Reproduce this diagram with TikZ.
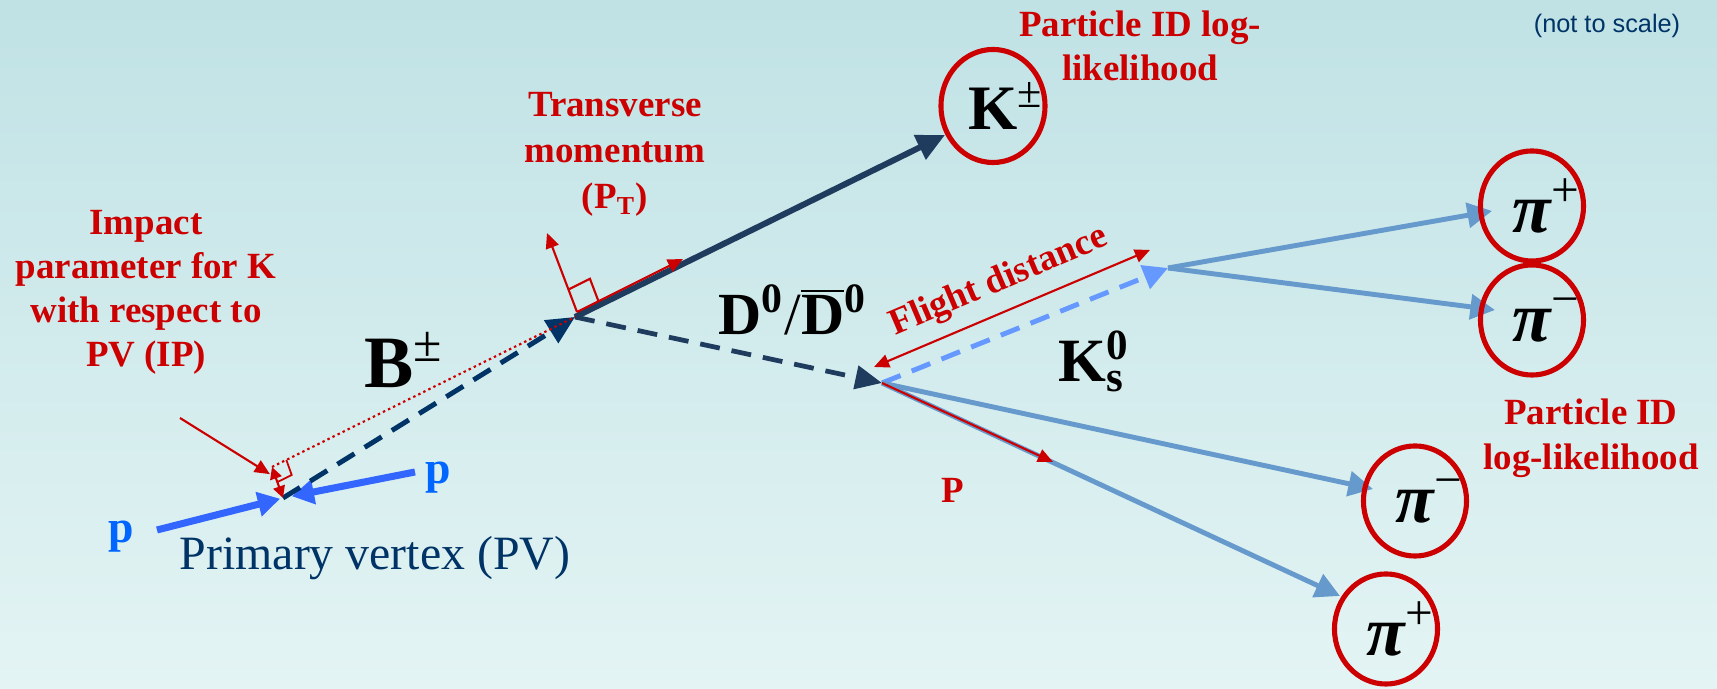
\documentclass[tikz,border=0pt]{standalone}
\usepackage{fontspec}
\setmainfont{Liberation Serif}
\setsansfont{Liberation Sans}
\usetikzlibrary{arrows.meta, calc, shapes.geometric}

\definecolor{bgtop}{RGB}{192,226,229}
\definecolor{bgbot}{RGB}{228,244,244}
\definecolor{lblred}{RGB}{204,0,0}
\definecolor{bnavy}{RGB}{0,51,102}
\definecolor{kslate}{RGB}{31,59,94}
\definecolor{pblue}{RGB}{51,102,255}
\definecolor{plabel}{RGB}{0,102,255}
\definecolor{ksblue}{RGB}{102,153,255}
\definecolor{piblue}{RGB}{102,153,204}

\newcommand{\supsub}[2]{\rlap{\textsuperscript{#1}}\textsubscript{#2}}

\begin{document}
\begin{tikzpicture}[x=0.01cm, y=-0.01cm,
    redlbl/.style={text=lblred, font=\bfseries\fontsize{10.5pt}{12.5pt}\selectfont, align=center, inner sep=0pt},
    bigsym/.style={inner sep=0pt, font=\bfseries\fontsize{#1}{#1}\selectfont},
    pidcirc/.style={ellipse, draw=lblred, line width=1.45pt, minimum width=1.03cm, minimum height=1.1cm, inner sep=0pt, font=\bfseries\itshape\fontsize{20pt}{20pt}\selectfont},
    dashtrack/.style={line width=1.4pt, dash pattern=on 0.2cm off 0.12cm},
    bigtip/.style={-{Triangle[length=8pt,width=7.4pt]}},
    pitrack/.style={piblue, line width=1.4pt, -{Triangle[length=7pt,width=7pt]}},
    redline/.style={lblred, line width=0.6pt},
    redtip/.style={redline, -{Triangle[length=4.3pt,width=3.8pt]}},
    redboth/.style={redline, {Triangle[length=4.3pt,width=3.8pt]}-{Triangle[length=4.3pt,width=3.8pt]}},
    beam/.style={pblue, line width=2pt, -{Triangle[length=6.3pt,width=6.8pt]}}
]

% Background
\fill[top color=bgtop, bottom color=bgbot] (0,0) rectangle (1717,689);
\useasboundingbox (0,0) rectangle (1717,689);

% Vertices and track ends
\coordinate (pv) at (283,498);
\coordinate (bv) at (575,317);
\coordinate (dv) at (882,383);
\coordinate (ksv) at (1168,268);
\coordinate (ktip) at (945,135);
\coordinate (beamleft) at (157,530);
\coordinate (beamright) at (415,472);
\coordinate (pip1tip) at (1492,211);
\coordinate (pim1tip) at (1495,310);
\coordinate (pim2tip) at (1373,489);
\coordinate (pip2tip) at (1340,596);

% Beams
\draw[beam, shorten >=0.03cm] (beamleft) -- (pv);
\draw[beam, shorten >=0.09cm] (beamright) -- (pv);

% Tracks
\draw[dashtrack, bnavy, bigtip] (pv) -- (bv);
\draw[dashtrack, kslate, line width=1.35pt, -{Triangle[length=7.6pt,width=6.6pt]}] (bv) -- (dv);
\draw[kslate, line width=1.7pt, bigtip] (bv) -- (ktip);
\draw[dashtrack, ksblue, -{Triangle[length=7pt,width=7pt]}] (dv) -- (ksv);
\draw[pitrack] (ksv) -- (pip1tip);
\draw[pitrack] (ksv) -- (pim1tip);
\draw[pitrack] (dv) -- (pim2tip);
\draw[pitrack] (dv) -- (pip2tip);

% Impact parameter
\coordinate (ipfoot) at (272,467);
\coordinate (ipfrom) at (180,418);
\coordinate (ipa) at ($(ipfoot)!0.16cm!(bv)$);
\coordinate (ipb) at ($(ipfoot)!0.16cm!(pv)$);
\draw[redline, dash pattern=on 0.7pt off 0.9pt] (ipfoot) -- (bv);
\draw[redline, line width=0.5pt] (ipa) -- ($(ipa)+(ipb)-(ipfoot)$) -- (ipb);
\draw[redline, {Triangle[length=3.4pt,width=3.4pt]}-{Triangle[length=3.4pt,width=3.4pt]}] (ipfoot) -- (pv);
\draw[redtip, shorten >=0.07cm] (ipfrom) -- ($(ipfoot)!0.35!(pv)$);

% Transverse momentum
\coordinate (ptbase) at (577,312);
\coordinate (pttip) at (683,259);
\coordinate (ptperp) at (547,233);
\coordinate (pta) at ($(ptbase)!0.24cm!(pttip)$);
\coordinate (ptb) at ($(ptbase)!0.24cm!(ptperp)$);
\draw[redtip] (ptbase) -- (pttip);
\draw[redtip] (ptbase) -- (ptperp);
\draw[redline] (pta) -- ($(pta)+(ptb)-(ptbase)$) -- (ptb);

% Flight distance and momentum
\coordinate (fdlow) at (874,367);
\coordinate (fdhigh) at (1150,250);
\coordinate (pmom) at (1053,462);
\draw[redboth] (fdlow) -- (fdhigh);
\draw[redtip] (dv) -- (pmom);

% Particle ID circles
\node[pidcirc, minimum width=1.04cm, minimum height=1.13cm, font=\bfseries\fontsize{18pt}{18pt}\selectfont] (kcirc) at (993,106) {K\rlap{\textsuperscript{\mdseries ±}}};
\node[pidcirc] (pip1) at (1532,206) {π\rlap{\textsuperscript{\mdseries\upshape +}}};
\node[pidcirc] (pim1) at (1532,320) {π\rlap{\textsuperscript{\mdseries\upshape −}}};
\node[pidcirc] (pim2) at (1415,501) {π\rlap{\textsuperscript{\mdseries\upshape −}}};
\node[pidcirc] (pip2) at (1386,629) {π\rlap{\textsuperscript{\mdseries\upshape +}}};

% Particle labels
\node[bigsym=21pt, anchor=base west] (blbl) at (364,388) {B\textsuperscript{\mdseries ±}};
\node[bigsym=17pt, anchor=base west] (dlbl) at (718,335) {D\textsuperscript{0}{\mdseries /}\ensuremath{\overline{\mbox{D}}}\textsuperscript{0}};
\node[bigsym=17.5pt, anchor=base west] (kslbl) at (1058,382) {K\supsub{0}{s}};
\node[anchor=base, inner sep=0pt, text=plabel, font=\bfseries\fontsize{13pt}{13pt}\selectfont] (pleft) at (121,543) {p};
\node[anchor=base, inner sep=0pt, text=plabel, font=\bfseries\fontsize{13pt}{13pt}\selectfont] (pright) at (438,484) {p};
\node[anchor=base, inner sep=0pt, text=bnavy, font=\fontsize{13.6pt}{14pt}\selectfont] (pvlbl) at (375,570) {Primary vertex (PV)};
\node[anchor=base, inner sep=0pt, text=bnavy, font=\sffamily\fontsize{7.2pt}{8pt}\selectfont] (scalelbl) at (1607,33) {(not to scale)};

% Annotations
\node[redlbl, anchor=north] (iplbl) at (146,210) {Impact\\parameter for K\\with respect to\\PV (IP)};
\node[redlbl, anchor=north, font=\bfseries\fontsize{10.5pt}{13pt}\selectfont] (ptlbl) at (615,92) {Transverse\\momentum\\(P\textsubscript{T})};
\node[redlbl, anchor=north] (pidtop) at (1140,10) {Particle ID log-\\likelihood};
\node[redlbl, anchor=north, font=\bfseries\fontsize{10.5pt}{12.8pt}\selectfont] (pidright) at (1591,398) {Particle ID\\log-likelihood};
\node[redlbl, rotate=23] (fdlbl) at (999,282) {Flight distance};
\node[redlbl, anchor=base] (plbl) at (953,503) {P};

\end{tikzpicture}
\end{document}
